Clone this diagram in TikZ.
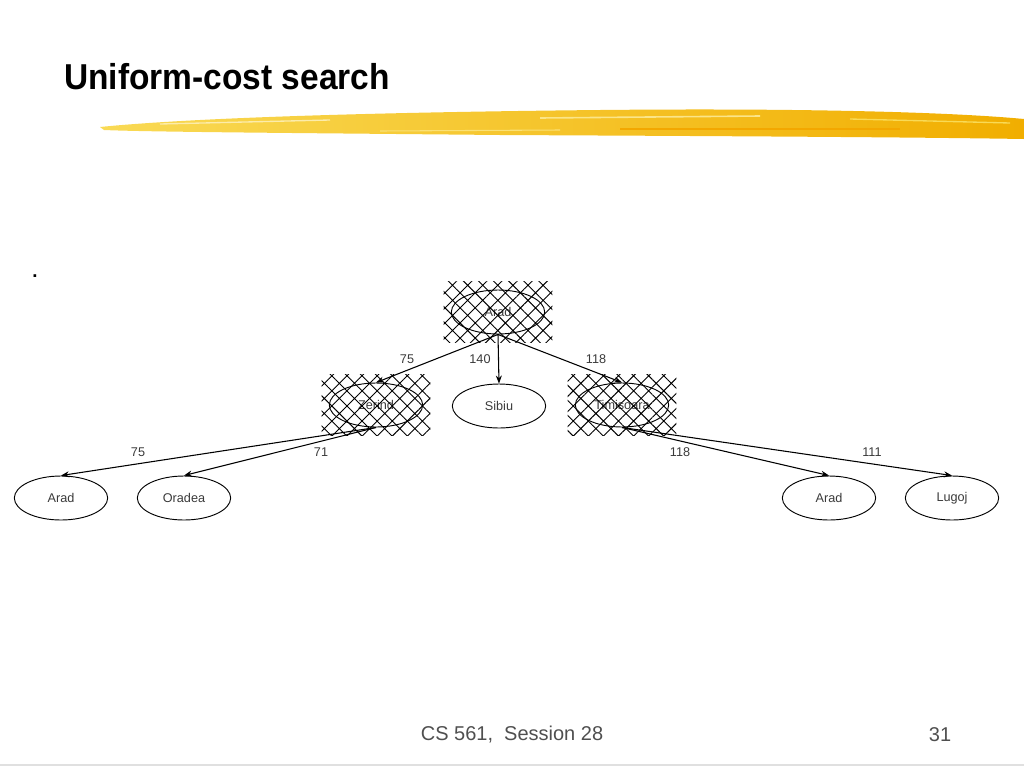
\documentclass[tikz,border=0pt]{standalone}
\usepackage{fontspec}
\usepackage{graphicx}
\setmainfont{Liberation Sans}
\usetikzlibrary{shapes.geometric,arrows.meta,fit,patterns.meta}
\definecolor{inkgray}{HTML}{3A3A3A}
\definecolor{footgray}{HTML}{4F4F4F}
\definecolor{brushlight}{HTML}{F9DA55}
\definecolor{brushdark}{HTML}{F1AE00}
\begin{document}
\begin{tikzpicture}[x=.75pt,y=-.75pt,
    state/.style={ellipse,draw,line width=.7pt,minimum width=70pt,minimum height=33pt,inner sep=0pt,
        font=\fontsize{9.5}{11}\selectfont,text=inkgray},
    visited/.style={pattern={Hatch[angle=45,distance=8pt,line width=.7pt]},inner xsep=5.5pt,inner ysep=6pt},
    edge/.style={-{Stealth[length=6pt,width=4.5pt]},line width=.8pt},
    lbl/.style={font=\fontsize{9.5}{11}\selectfont,text=inkgray}]
        \useasboundingbox (0,0) rectangle (1024,768);
        % title and brush stroke
        \node[anchor=base west,inner sep=0pt] (title) at (64,89) {\fontsize{27}{30}\selectfont\bfseries\scalebox{.93}[1]{Uniform-cost search}};
        \shade[left color=brushlight,right color=brushdark] (100,127) .. controls (200,117) and (400,112) .. (600,110)
            .. controls (800,108) and (950,112) .. (1024,119) -- (1024,139) .. controls (900,137) and (700,136) .. (500,135)
            .. controls (300,133) and (150,132) .. (104,130) -- cycle;
        \draw[brushlight!50!white,line width=1pt] (160,124)--(330,120);
        \draw[brushlight!70!white,line width=1.2pt] (540,118)--(760,116);
        \draw[brushdark!85!orange,line width=1.5pt] (620,129)--(900,129);
        \draw[brushlight,line width=1pt] (850,119)--(1010,123);
        \draw[brushlight!80!white,line width=.8pt] (380,131)--(560,130);
        \node[inner sep=0pt] (dot) at (35,276) {\fontsize{14}{16}\selectfont\bfseries .};
        % search tree
        \node[state] (root) at (498,312) {Arad};
        \node[state] (zerind) at (376,405) {Zerind};
        \node[state] (sibiu) at (499,406) {Sibiu};
        \node[state] (timisoara) at (622,405) {Timisoara};
        \node[state] (aradl) at (61,498) {Arad};
        \node[state] (oradea) at (184,498) {Oradea};
        \node[state] (aradr) at (829,498) {Arad};
        \node[state] (lugoj) at (952,498) {Lugoj};
        \node[visited,fit=(root)] (hroot) {};
        \node[visited,fit=(zerind)] (hzerind) {};
        \node[visited,fit=(timisoara)] (htimisoara) {};
        \draw[edge] (root.south)--(zerind.north);
        \draw[edge] (root.south)--(sibiu.north);
        \draw[edge] (root.south)--(timisoara.north);
        \draw[edge] (zerind.south)--(aradl.north);
        \draw[edge] (zerind.south)--(oradea.north);
        \draw[edge] (timisoara.south)--(aradr.north);
        \draw[edge] (timisoara.south)--(lugoj.north);
        \node[lbl] (c1) at (407,359) {75};
        \node[lbl] (c2) at (480,359) {140};
        \node[lbl] (c3) at (596,359) {118};
        \node[lbl] (c4) at (138,452) {75};
        \node[lbl] (c5) at (321,452) {71};
        \node[lbl] (c6) at (680,452) {118};
        \node[lbl] (c7) at (872,452) {111};
        % footer
        \node[anchor=base,text=footgray,inner sep=0pt] (foot) at (512,740) {\fontsize{15}{17}\selectfont CS 561,\ \ Session 28};
        \node[anchor=base,text=footgray,inner sep=0pt] (page) at (940,741) {\fontsize{15}{17}\selectfont 31};
        \draw[black!12,line width=1pt] (0,765)--(1024,765);
\end{tikzpicture}
\end{document}
